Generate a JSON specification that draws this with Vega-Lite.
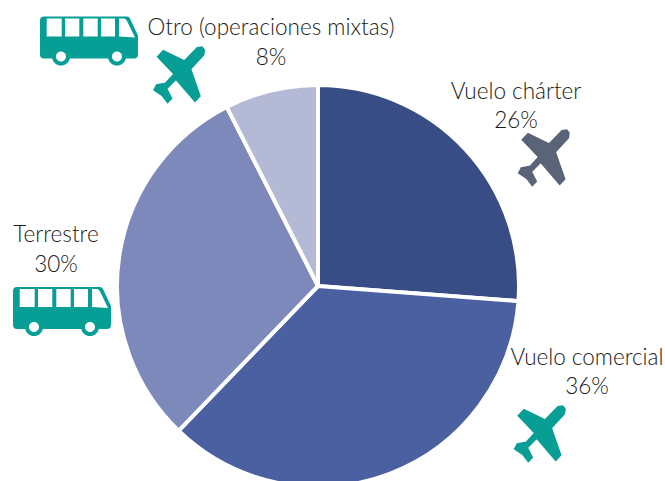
{"$schema":"https://vega.github.io/schema/vega-lite/v6.json","width":665,"height":481,"padding":0,"autosize":{"type":"none"},"background":"white","view":{"stroke":null},
"datasets":{"slices":[{"tipo":"Vuelo chárter","share":26.2,"orden":1,"cx":318,"cy":286},{"tipo":"Vuelo comercial","share":36,"orden":2,"cx":318,"cy":286},{"tipo":"Terrestre","share":30.3,"orden":3,"cx":318,"cy":286},{"tipo":"Otro (operaciones mixtas)","share":7.5,"orden":4,"cx":318,"cy":286}],
"labels":[{"t":"Otro (operaciones mixtas)","x":271,"y":28},{"t":"8%","x":271,"y":58},{"t":"Vuelo chárter","x":516,"y":92},{"t":"26%","x":516,"y":121},{"t":"Terrestre","x":56,"y":235},{"t":"30%","x":56,"y":265},{"t":"Vuelo comercial","x":587,"y":358},{"t":"36%","x":587,"y":387}],
"buses":[{"x":89,"y":41},{"x":62,"y":311.5}],
"planes":[{"x":178.3,"y":74,"c":"teal"},{"x":543,"y":157,"c":"gray"},{"x":539,"y":433,"c":"teal"}]},
"resolve":{"scale":{"color":"independent"}},
"layer":[
{"data":{"name":"slices"},"mark":{"type":"arc","outerRadius":201,"stroke":"white","strokeWidth":4},"encoding":{"x":{"field":"cx","type":"quantitative","scale":{"domain":[0,665],"nice":false,"zero":false},"axis":null},"y":{"field":"cy","type":"quantitative","scale":{"domain":[481,0],"nice":false,"zero":false},"axis":null},"theta":{"field":"share","type":"quantitative","stack":true},"order":{"field":"orden"},"color":{"field":"tipo","type":"nominal","legend":null,"scale":{"domain":["Vuelo chárter","Vuelo comercial","Terrestre","Otro (operaciones mixtas)"],"range":["#384d85","#4a60a1","#7d89ba","#b4bad6"]}}}},
{"data":{"name":"buses"},"mark":{"type":"point","filled":true,"opacity":1,"size":4,"color":"#079e96","shape":"M-45,-24.5L38,-24.5Q40,-24.5 41,-22.5L48,-7.5Q49,-6 49,-4.5L49,13.5Q49,17.5 45,17.5L36.8,17.5A9,9 0 0 1 19.2,17.5L-19.2,17.5A9,9 0 0 1 -36.8,17.5L-45,17.5Q-49,17.5 -49,13.5L-49,-20.5Q-49,-24.5 -45,-24.5ZM-42.3,-22.5L-42.3,-4.5L-27.3,-4.5L-27.3,-22.5ZM-24,-22.5L-24,-4.5L-9.7,-4.5L-9.7,-22.5ZM-5.7,-22.5L-5.7,-4.5L8.7,-4.5L8.7,-22.5ZM12,-22.5L12,-4.5L26,-4.5L26,-22.5ZM30,-22.5L30,-4.5L46,-3.5L38,-20Q37,-22.5 35,-22.5ZM-23,15.5A5,5 0 1 0 -33,15.5A5,5 0 1 0 -23,15.5ZM33,15.5A5,5 0 1 0 23,15.5A5,5 0 1 0 33,15.5Z"},"encoding":{"x":{"field":"x","type":"quantitative"},"y":{"field":"y","type":"quantitative"}}},
{"data":{"name":"planes"},"mark":{"type":"point","filled":true,"opacity":1,"size":4,"strokeWidth":1.5,"strokeOpacity":1,"shape":"M19,-26.3L23.7,-27L26,-24L25.3,-19L12.3,-5L21.7,22L16.7,27.3L-2.3,5.3L-11.7,14.7L-6.7,24.3L-10.7,28.7L-16.3,21.3L-24.3,16L-21.7,11L-12.7,9.3L-4.3,0L-20.7,-17.3L-15,-23.3L6,-13Z"},"encoding":{"x":{"field":"x","type":"quantitative"},"y":{"field":"y","type":"quantitative"},"color":{"field":"c","type":"nominal","legend":null,"scale":{"domain":["teal","gray"],"range":["#079e96","#5a6478"]}},"stroke":{"field":"c","type":"nominal","legend":null,"scale":{"domain":["teal","gray"],"range":["#079e96","#5a6478"]}}}},
{"data":{"name":"labels"},"mark":{"type":"text","font":"Lato","fontWeight":300,"fontSize":22.5,"color":"#1a1a1a","align":"center","baseline":"middle"},"encoding":{"x":{"field":"x","type":"quantitative"},"y":{"field":"y","type":"quantitative"},"text":{"field":"t"}}}
]}
